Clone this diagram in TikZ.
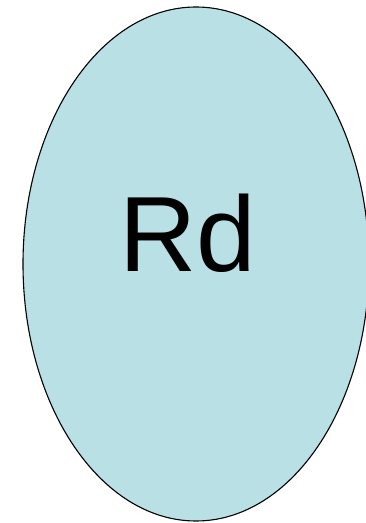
\documentclass[tikz,border=0pt]{standalone}
\usepackage{fontspec}
\setmainfont{Liberation Sans}
\definecolor{ellfill}{RGB}{185,224,228}
\tikzset{blob/.style={draw=black, line width=1.1pt, fill=ellfill},
  lbl/.style={inner sep=0pt, font=\fontsize{107}{110}\selectfont}}
\begin{document}
\begin{tikzpicture}[x=1pt,y=1pt]
\useasboundingbox (0,0) rectangle (366,523);
\fill[white] (0,0) rectangle (366,523);
\draw[blob] (196,259) ellipse [x radius=173, y radius=257];
\node[lbl, anchor=base west] (rd) at (119.5,251) {Rd};
\end{tikzpicture}
\end{document}
